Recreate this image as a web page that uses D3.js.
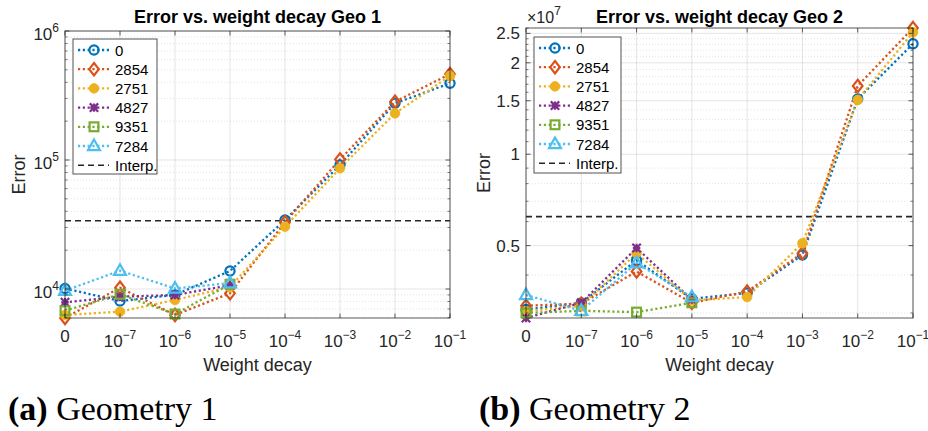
<!DOCTYPE html>
<html><head><meta charset="utf-8">
<script src="https://cdn.jsdelivr.net/npm/d3@7"></script>
<style>body{margin:0;background:#fff}svg{display:block}</style>
</head><body>
<svg id="chart" width="928" height="431"></svg>
<script>
// ---------------- data ----------------
const xTickLabels = ["0", "10^-7", "10^-6", "10^-5", "10^-4", "10^-3", "10^-2", "10^-1"];
const seriesNames = ["0", "2854", "2751", "4827", "9351", "7284"];

// Geometry 1
const geo1_s0    = [10100, 8070, 9000, 13800, 34300, 91400, 275000, 393000];
const geo1_s2854 = [5960, 10230, 6290, 9260, 32900, 101000, 283000, 464000];
const geo1_s2751 = [6290, 6670, 8220, 10360, 30400, 86300, 230000, 448000];
const geo1_s4827 = [7890, 8720, 8980, 10700];
const geo1_s9351 = [6790, 9100, 6400, 10900];
const geo1_s7284 = [9700, 13870, 10100, 11100];
const geo1_interp = 33800;
const geo1_yTicks = [1e4, 1e5, 1e6];
const geo1_yTickLabels = ["10^4", "10^5", "10^6"];

// Geometry 2
const geo2_s0    = [3.08e6, 3.24e6, 4.47e6, 3.34e6, 3.49e6, 4.66e6, 1.52e7, 2.31e7];
const geo2_s2854 = [3.17e6, 3.22e6, 4.11e6, 3.24e6, 3.53e6, 4.72e6, 1.678e7, 2.604e7];
const geo2_s2751 = [3.04e6, 3.17e6, 4.72e6, 3.30e6, 3.385e6, 5.09e6, 1.51e7, 2.52e7];
const geo2_s4827 = [2.888e6, 3.24e6, 4.91e6, 3.32e6];
const geo2_s9351 = [3.0e6, 3.05e6, 3.02e6, 3.24e6];
const geo2_s7284 = [3.44e6, 3.05e6, 4.38e6, 3.385e6];
const geo2_interp = 6.23e6;
const geo2_yTicks = [5e6, 1e7, 1.5e7, 2e7, 2.5e7];
const geo2_yTickLabels = ["0.5", "1", "1.5", "2", "2.5"];

// ---------------- style ----------------
const colors = ["#0072BD", "#D95319", "#EDB120", "#7E2F8E", "#77AC30", "#4DBEEE"];
const markers = ["circle", "diamond", "dot", "asterisk", "square", "triangle"];
const AX = "#262626";
const FONT = "'Liberation Sans', Arial, Helvetica, sans-serif";

const svg = d3.select("#chart");

function drawMarker(g, type, x, y, color) {
  const sw = 2.2;
  if (type === "circle") {
    g.append("circle").attr("cx", x).attr("cy", y).attr("r", 4.6)
      .attr("fill", "none").attr("stroke", color).attr("stroke-width", sw);
  } else if (type === "dot") {
    g.append("circle").attr("cx", x).attr("cy", y).attr("r", 4.8)
      .attr("fill", color).attr("stroke", color).attr("stroke-width", 0.8);
  } else if (type === "diamond") {
    g.append("path").attr("d", `M${x},${y-6.2}L${x+4.8},${y}L${x},${y+6.2}L${x-4.8},${y}Z`)
      .attr("fill", "none").attr("stroke", color).attr("stroke-width", sw);
  } else if (type === "square") {
    g.append("rect").attr("x", x-4.4).attr("y", y-4.4).attr("width", 8.8).attr("height", 8.8)
      .attr("fill", "none").attr("stroke", color).attr("stroke-width", sw);
  } else if (type === "triangle") {
    g.append("path").attr("d", `M${x},${y-6.5}L${x+6},${y+4.2}L${x-6},${y+4.2}Z`)
      .attr("fill", "none").attr("stroke", color).attr("stroke-width", sw);
  } else if (type === "asterisk") {
    const r = 4.2;
    g.append("path").attr("d",
      `M${x-r},${y-r}L${x+r},${y+r}M${x-r},${y+r}L${x+r},${y-r}M${x-r*0.9},${y}L${x+r*0.9},${y}M${x},${y-r}L${x},${y+r}`)
      .attr("fill", "none").attr("stroke", color).attr("stroke-width", 2.2);
  }
}

function powLabel(sel, label, baseSize, supSize, supDy) {
  const parts = label.split("^");
  sel.append("tspan").text(parts[0]).attr("font-size", baseSize);
  if (parts.length > 1) {
    sel.append("tspan").text(parts[1].replace("-", "\u2212")).attr("font-size", supSize).attr("dy", supDy);
  }
}

function drawPanel(cfg) {
  const { left, right, top, bottom, yDomain, series, interp, yTicks, yTickLabels, minorTicks, title, powY } = cfg;
  const x = d3.scaleLinear().domain([0, xTickLabels.length - 1]).range([left, right]);
  const y = d3.scaleLog().domain(yDomain).range([bottom, top]);
  const g = svg.append("g");

  // minor grid
  g.append("g").selectAll("line").data(minorTicks).join("line")
    .attr("x1", left).attr("x2", right).attr("y1", d => y(d)).attr("y2", d => y(d))
    .attr("stroke", AX).attr("stroke-opacity", 0.22).attr("stroke-width", 0.6)
    .attr("stroke-dasharray", "1,2");
  // major grid
  g.append("g").selectAll("line").data(yTicks).join("line")
    .attr("x1", left).attr("x2", right).attr("y1", d => y(d)).attr("y2", d => y(d))
    .attr("stroke", AX).attr("stroke-opacity", 0.15).attr("stroke-width", 0.8);
  g.append("g").selectAll("line").data(d3.range(xTickLabels.length)).join("line")
    .attr("x1", d => x(d)).attr("x2", d => x(d)).attr("y1", top).attr("y2", bottom)
    .attr("stroke", AX).attr("stroke-opacity", 0.15).attr("stroke-width", 0.8);

  // interp line
  g.append("line").attr("x1", left).attr("x2", right).attr("y1", y(interp)).attr("y2", y(interp))
    .attr("stroke", AX).attr("stroke-width", 1.6).attr("stroke-dasharray", "6,4");

  // series lines
  const line = d3.line().x((d, i) => x(i)).y(d => y(d));
  series.forEach((s, k) => {
    g.append("path").datum(s).attr("d", line).attr("fill", "none")
      .attr("stroke", colors[k]).attr("stroke-width", 2.3)
      .attr("stroke-dasharray", "2.2,2.6");
  });
  series.forEach((s, k) => {
    const mg = g.append("g");
    s.forEach((v, i) => drawMarker(mg, markers[k], x(i), y(v), colors[k]));
  });

  // box
  g.append("rect").attr("x", left).attr("y", top).attr("width", right - left).attr("height", bottom - top)
    .attr("fill", "none").attr("stroke", AX).attr("stroke-opacity", 0.75).attr("stroke-width", 1);

  // ticks
  const tl = 4.5;
  d3.range(xTickLabels.length).forEach(i => {
    g.append("line").attr("x1", x(i)).attr("x2", x(i)).attr("y1", bottom).attr("y2", bottom - tl).attr("stroke", AX).attr("stroke-opacity", 0.75);
    g.append("line").attr("x1", x(i)).attr("x2", x(i)).attr("y1", top).attr("y2", top + tl).attr("stroke", AX).attr("stroke-opacity", 0.75);
  });
  yTicks.forEach(v => {
    g.append("line").attr("x1", left).attr("x2", left + tl).attr("y1", y(v)).attr("y2", y(v)).attr("stroke", AX).attr("stroke-opacity", 0.75);
    g.append("line").attr("x1", right).attr("x2", right - tl).attr("y1", y(v)).attr("y2", y(v)).attr("stroke", AX).attr("stroke-opacity", 0.75);
  });
  minorTicks.forEach(v => {
    g.append("line").attr("x1", left).attr("x2", left + 2.5).attr("y1", y(v)).attr("y2", y(v)).attr("stroke", AX).attr("stroke-opacity", 0.75).attr("stroke-width", 0.8);
    g.append("line").attr("x1", right).attr("x2", right - 2.5).attr("y1", y(v)).attr("y2", y(v)).attr("stroke", AX).attr("stroke-opacity", 0.75).attr("stroke-width", 0.8);
  });

  // x tick labels
  xTickLabels.forEach((lab, i) => {
    const t = g.append("text").attr("x", x(i)).attr("text-anchor", "middle")
      .attr("font-family", FONT).attr("fill", AX);
    if (lab.includes("^")) {
      t.attr("y", 347);
      powLabel(t, lab, 17, 12, -8);
    } else {
      t.attr("y", 342).attr("font-size", 17).text(lab);
    }
  });
  // y tick labels
  yTicks.forEach((v, i) => {
    const lab = yTickLabels[i];
    const t = g.append("text").attr("x", left - 6).attr("text-anchor", "end")
      .attr("font-family", FONT).attr("fill", AX);
    if (lab.includes("^")) {
      t.attr("y", y(v) + 9);
      powLabel(t, lab, 17, 12, -8);
    } else {
      t.attr("y", y(v) + 6).attr("font-size", 17).text(lab);
    }
  });
  if (powY) {
    const t = svg.append("text").attr("x", left + 1).attr("y", 23).attr("font-family", FONT).attr("fill", AX);
    t.append("tspan").text("\u00d710").attr("font-size", 16);
    t.append("tspan").text(powY).attr("font-size", 12).attr("dy", -8);
  }

  // labels
  const cx = (left + right) / 2;
  svg.append("text").attr("x", cx).attr("y", 23).attr("text-anchor", "middle")
    .attr("font-family", FONT).attr("font-weight", "bold").attr("font-size", 18).attr("fill", "#000").text(title);
  svg.append("text").attr("x", cx).attr("y", 371).attr("text-anchor", "middle")
    .attr("font-family", FONT).attr("font-size", 18).attr("fill", AX).text("Weight decay");
  svg.append("text").attr("transform", `translate(${cfg.ylabX},${(top + bottom) / 2}) rotate(-90)`)
    .attr("text-anchor", "middle").attr("font-family", FONT).attr("font-size", 18).attr("fill", AX).text("Error");

  // legend
  const L = cfg.legend;
  const lg = svg.append("g");
  lg.append("rect").attr("x", L.x).attr("y", L.y).attr("width", L.w).attr("height", L.h)
    .attr("fill", "#fff").attr("stroke", AX).attr("stroke-opacity", 0.8).attr("stroke-width", 1);
  const names = seriesNames.concat(["Interp."]);
  names.forEach((nm, k) => {
    const ry = L.y + 11 + k * 19.2;
    const x0 = L.x + 5, x1 = L.x + 36, xm = L.x + 21;
    if (k < seriesNames.length) {
      lg.append("line").attr("x1", x0).attr("x2", x1).attr("y1", ry).attr("y2", ry)
        .attr("stroke", colors[k]).attr("stroke-width", 2.3).attr("stroke-dasharray", "2.2,2.6");
      drawMarker(lg, markers[k], xm, ry, colors[k]);
    } else {
      lg.append("line").attr("x1", x0).attr("x2", x1).attr("y1", ry).attr("y2", ry)
        .attr("stroke", AX).attr("stroke-width", 1.4).attr("stroke-dasharray", "6,4");
    }
    lg.append("text").attr("x", L.x + 42).attr("y", ry + 5.5).attr("font-family", FONT)
      .attr("font-size", 15).attr("fill", "#000").text(nm);
  });
}

const minor1 = [];
[1e3, 1e4, 1e5].forEach(d => { for (let m = 2; m <= 9; m++) minor1.push(m * d); });
const minor1f = minor1.filter(v => v >= 5960 && v <= 1e6);
const minor2 = [];
for (let m = 3; m <= 9; m++) minor2.push(m * 1e6);
for (let m = 11; m <= 26; m++) minor2.push(m * 1e6);

drawPanel({
  left: 65, right: 450, top: 31, bottom: 318,
  yDomain: [5960, 1e6],
  series: [geo1_s0, geo1_s2854, geo1_s2751, geo1_s4827, geo1_s9351, geo1_s7284],
  interp: geo1_interp, yTicks: geo1_yTicks, yTickLabels: geo1_yTickLabels,
  minorTicks: minor1f, title: "Error vs. weight decay Geo 1", ylabX: 25,
  legend: { x: 73, y: 39, w: 84, h: 135 }
});
drawPanel({
  left: 526, right: 913, top: 28, bottom: 318,
  yDomain: [2.888e6, 2.604e7],
  series: [geo2_s0, geo2_s2854, geo2_s2751, geo2_s4827, geo2_s9351, geo2_s7284],
  interp: geo2_interp, yTicks: geo2_yTicks, yTickLabels: geo2_yTickLabels,
  minorTicks: minor2.filter(v => v >= 2.888e6 && v <= 2.604e7 && !geo2_yTicks.includes(v)),
  title: "Error vs. weight decay Geo 2", ylabX: 490, powY: "7",
  legend: { x: 534, y: 37, w: 87, h: 136 }
});

// captions
const SERIF = "'Liberation Serif', 'DejaVu Serif', serif";
[["(a)", " Geometry 1", 8], ["(b)", " Geometry 2", 479]].forEach(([a, b, xx]) => {
  const t = svg.append("text").attr("x", xx).attr("y", 420).attr("font-family", SERIF)
    .attr("font-size", 34).attr("fill", "#000");
  t.append("tspan").text(a).attr("font-weight", "bold");
  t.append("tspan").text(b);
});
</script>
</body></html>
